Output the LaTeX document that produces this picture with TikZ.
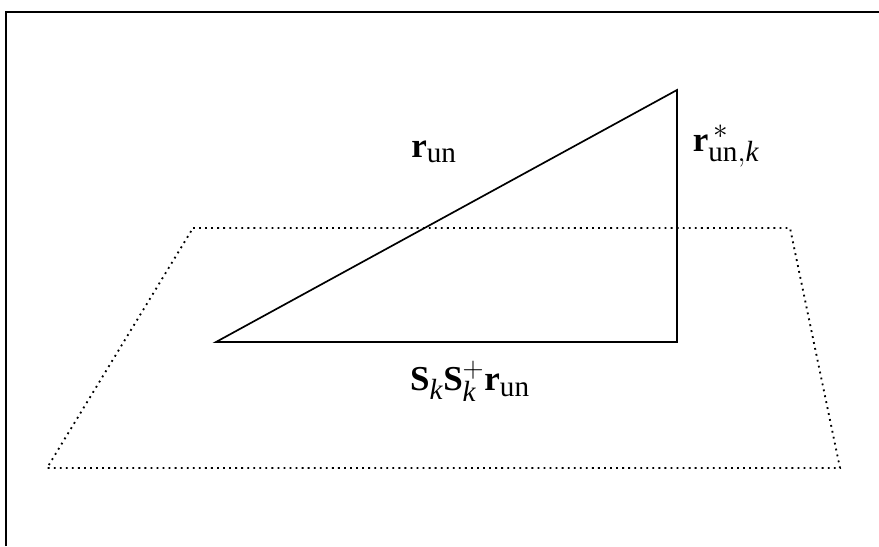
\documentclass[tikz,border=0pt]{standalone}
\usepackage{fontspec}
\setmainfont{Liberation Serif}
\usetikzlibrary{positioning}

\begin{document}
\begin{tikzpicture}[font=\Huge,x=0.025cm,y=-0.025cm,
  side/.style={line width=1.2pt,line join=miter},
  plane/.style={dash pattern=on 1.3pt off 3pt,line width=1.3pt},
  frame/.style={line width=1.5pt},
  lbl/.style={inner sep=1pt}]
\useasboundingbox (0,0) rectangle (879,546);
\draw[frame] (6,546) -- (6,12) -- (879,12);
\coordinate (p1) at (193,228);
\coordinate (p2) at (790,228);
\coordinate (p3) at (840,468);
\coordinate (p4) at (47,468);
\draw[plane] (p1) -- (p2) -- (p3) -- (p4) -- cycle;
\coordinate (o) at (216,342);
\coordinate (top) at (677,90);
\coordinate (foot) at (677,342);
\draw[side] (o) -- (top) -- (foot) -- cycle;
\node[lbl] (run) at (434,152) {$\mathbf{r}_{\mathrm{un}}$};
\node[lbl] (rperp) at (726,146) {$\mathbf{r}^{\,*}_{\mathrm{un},\mathit{k}}$};
\node[lbl] (proj) at (470,381) {$\mathbf{S}_{\mathit{k}}\mathbf{S}^{+}_{\mathit{k}}\mathbf{r}_{\mathrm{un}}$};
\end{tikzpicture}
\end{document}
